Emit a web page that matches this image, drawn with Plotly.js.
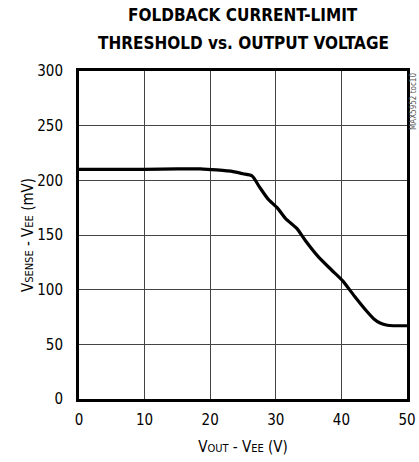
<!DOCTYPE html>
<html><head><meta charset="utf-8">
<script src="https://cdn.plot.ly/plotly-3.0.1.min.js"></script>
<style>html,body{margin:0;padding:0;background:#fff;}</style>
</head><body>
<div id="chart" style="width:419px;height:462px;"></div>
<script>
var titleLines = ["FOLDBACK CURRENT-LIMIT", "THRESHOLD vs. OUTPUT VOLTAGE"];
var vout = [0, 5, 10, 15, 18.5, 21, 23.5, 25, 26.4, 27.5, 28.8, 30.2, 31.5, 33.2, 34.5, 36.5, 38.5, 40.2, 42, 43.9, 45, 45.9, 47, 47.9, 49, 50];
var vsense = [210, 210, 210, 210.5, 210.5, 209.5, 208, 206, 204, 194, 183, 175, 165, 156, 145, 130, 118, 108, 94, 80, 73, 69.5, 67.5, 67, 67, 67];
var xTicks = [0, 10, 20, 30, 40, 50];
var yTicks = [0, 50, 100, 150, 200, 250, 300];
var tickFont = {family: "DejaVu Sans Condensed, Liberation Sans Narrow, sans-serif", size: 15, color: "#000"};
var titleFont = {family: "DejaVu Sans Condensed, DejaVu Sans, sans-serif", size: 17, color: "#000"};
var data = [{x: vout, y: vsense, type: "scatter", mode: "lines",
  line: {color: "#000", width: 3.2, shape: "spline", smoothing: 0.6}, hoverinfo: "skip"}];
var layout = {
  width: 419, height: 462,
  margin: {l: 79, r: 12, t: 71, b: 63},
  paper_bgcolor: "#fff", plot_bgcolor: "#fff",
  showlegend: false,
  xaxis: {range: [0, 50], tickvals: xTicks, ticktext: xTicks.map(String), ticks: "",
    showgrid: true, gridcolor: "#444", gridwidth: 1, zeroline: false,
    showline: true, linecolor: "#000", linewidth: 3, mirror: true,
    tickfont: tickFont, ticklabelstandoff: 5,
    title: {text: "V<span style='font-size:11px'>OUT</span> - V<span style='font-size:11px'>EE</span> (V)", font: tickFont, standoff: 14}},
  yaxis: {range: [0, 300], tickvals: yTicks, ticktext: yTicks.map(String), ticks: "",
    showgrid: true, gridcolor: "#444", gridwidth: 1, zeroline: false,
    showline: true, linecolor: "#000", linewidth: 3, mirror: true,
    tickfont: tickFont, ticklabelstandoff: 10,
    title: {text: "V<span style='font-size:11px'>SENSE</span> - V<span style='font-size:11px'>EE</span> (mV)", font: tickFont, standoff: 0}},
  annotations: [
    {text: "<b>" + titleLines[0] + "</b>", xref: "paper", yref: "paper", x: 0.5, y: 1, xanchor: "center", yanchor: "middle", yshift: 56, showarrow: false, font: titleFont},
    {text: "<b>" + titleLines[1] + "</b>", xref: "paper", yref: "paper", x: 0.5, y: 1, xanchor: "center", yanchor: "middle", yshift: 28, showarrow: false, font: titleFont},
    {text: "MAX5952 toc10", xref: "paper", yref: "paper", x: 1.0, y: 1.0,
    xanchor: "left", yanchor: "top", xshift: 0, textangle: -90, showarrow: false,
    font: {family: "DejaVu Sans Condensed, sans-serif", size: 8, color: "#555"}}]
};
Plotly.newPlot("chart", data, layout, {staticPlot: true, displayModeBar: false});
</script>
</body></html>
